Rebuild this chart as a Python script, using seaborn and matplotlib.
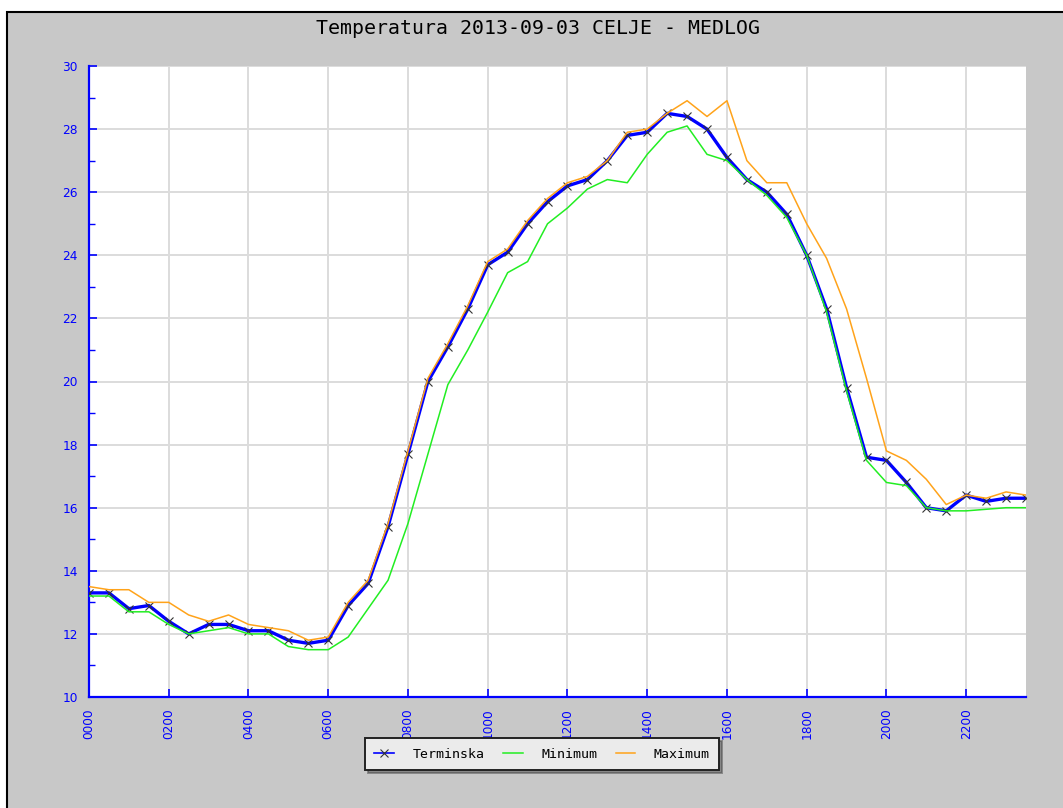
import matplotlib
matplotlib.use("Agg")
import matplotlib.pyplot as plt
from matplotlib.patches import Rectangle
from matplotlib.ticker import MultipleLocator
import seaborn as sns
import pandas as pd

# half-hourly readings, 0000 .. 2330
times = [f"{h:02d}{m:02d}" for h in range(24) for m in (0, 30)]

terminska = [13.3, 13.3, 12.8, 12.9, 12.4, 12.0, 12.3, 12.3, 12.1, 12.1, 11.8, 11.7,
             11.8, 12.9, 13.6, 15.4, 17.7, 20.0, 21.1, 22.3, 23.7, 24.1, 25.0, 25.7,
             26.2, 26.4, 27.0, 27.8, 27.9, 28.5, 28.4, 28.0, 27.1, 26.4, 26.0, 25.3,
             24.0, 22.3, 19.8, 17.6, 17.5, 16.8, 16.0, 15.9, 16.4, 16.2, 16.3, 16.3]
minimum = [13.2, 13.2, 12.7, 12.7, 12.3, 12.0, 12.1, 12.2, 12.0, 12.0, 11.6, 11.5,
           11.5, 11.9, 12.8, 13.7, 15.5, 17.7, 19.9, 21.0, 22.2, 23.45, 23.8, 25.0,
           25.5, 26.1, 26.4, 26.3, 27.2, 27.9, 28.1, 27.2, 27.0, 26.4, 25.9, 25.2,
           24.0, 22.2, 19.7, 17.5, 16.8, 16.7, 16.0, 15.9, 15.9, 15.95, 16.0, 16.0]
maximum = [13.5, 13.4, 13.4, 13.0, 13.0, 12.6, 12.4, 12.6, 12.3, 12.2, 12.1, 11.8,
           11.9, 13.0, 13.7, 15.5, 17.8, 20.1, 21.2, 22.4, 23.8, 24.2, 25.1, 25.8,
           26.3, 26.5, 27.0, 27.9, 28.0, 28.5, 28.9, 28.4, 28.9, 27.0, 26.3, 26.3,
           25.0, 23.9, 22.3, 20.1, 17.8, 17.5, 16.9, 16.1, 16.4, 16.3, 16.5, 16.4]

title = "Temperatura 2013-09-03 CELJE - MEDLOG"

df = pd.DataFrame({"time": times, "Terminska": terminska,
                   "Minimum": minimum, "Maximum": maximum})
df["pos"] = range(len(df))

BLUE = "#0000ff"
GRAY = "#c8c8c8"

fig = plt.figure(figsize=(10.63, 8.08), dpi=100, facecolor="white")
# gray panel with a border on the top and left only (rest is cut off)
fig.add_artist(Rectangle((7 / 1063, -0.05), 1.2, 1 - 12 / 808 + 0.05,
                         transform=fig.transFigure, facecolor=GRAY,
                         edgecolor="black", lw=1.5, zorder=-10))

ax = fig.add_axes([89 / 1063, 1 - 697 / 808, 937 / 1063, 631 / 808])
ax.set_facecolor("white")

sns.lineplot(data=df, x="pos", y="Terminska", ax=ax, color=BLUE, lw=2.4,
             marker="x", markersize=6, markeredgecolor="#333333",
             markeredgewidth=0.8, label="Terminska", zorder=3)
sns.lineplot(data=df, x="pos", y="Minimum", ax=ax, color="#22ee22", lw=1.1,
             label="Minimum", zorder=4)
sns.lineplot(data=df, x="pos", y="Maximum", ax=ax, color="#ffa31a", lw=1.1,
             label="Maximum", zorder=4)

ax.set_xlim(0, len(df) - 1)
ax.set_ylim(10, 30)
ax.set_xticks(df["pos"][::4])
ax.set_xticklabels(df["time"][::4], rotation=90)
ax.yaxis.set_major_locator(MultipleLocator(2))
ax.yaxis.set_minor_locator(MultipleLocator(1))
ax.set_xlabel("")
ax.set_ylabel("")

ax.grid(True, which="major", color="#dcdcdc", lw=1.4)
ax.set_axisbelow(True)
for s in ("top", "right"):
    ax.spines[s].set_visible(False)
for s in ("left", "bottom"):
    ax.spines[s].set_color(BLUE)
    ax.spines[s].set_linewidth(1.6)

ax.tick_params(axis="both", which="both", direction="in", colors=BLUE,
               labelsize=8.7, labelcolor=BLUE)
ax.tick_params(axis="both", which="major", length=6, width=1.2, pad=8)
ax.tick_params(axis="y", which="minor", length=4, width=1.0)

fig.text(538 / 1063, 1 - 28 / 808, title, ha="center", va="center",
         fontsize=14.3, family="DejaVu Sans Mono", color="black")

leg = ax.legend(loc="center", bbox_to_anchor=(542 / 1063, 1 - 754 / 808),
                bbox_transform=fig.transFigure, ncol=3, frameon=True,
                fancybox=False, shadow=True, handlelength=1.5,
                handletextpad=1.4, columnspacing=1.4, borderpad=0.7,
                prop={"family": "DejaVu Sans Mono", "size": 9.5})
leg.get_frame().set_facecolor("#ebebeb")
leg.get_frame().set_edgecolor("#222222")
leg.get_frame().set_linewidth(1.4)
leg.get_frame().set_alpha(1)
leg.get_lines()[0].set_linewidth(1.2)

fig.savefig("out.png", dpi=100, facecolor=fig.get_facecolor())
